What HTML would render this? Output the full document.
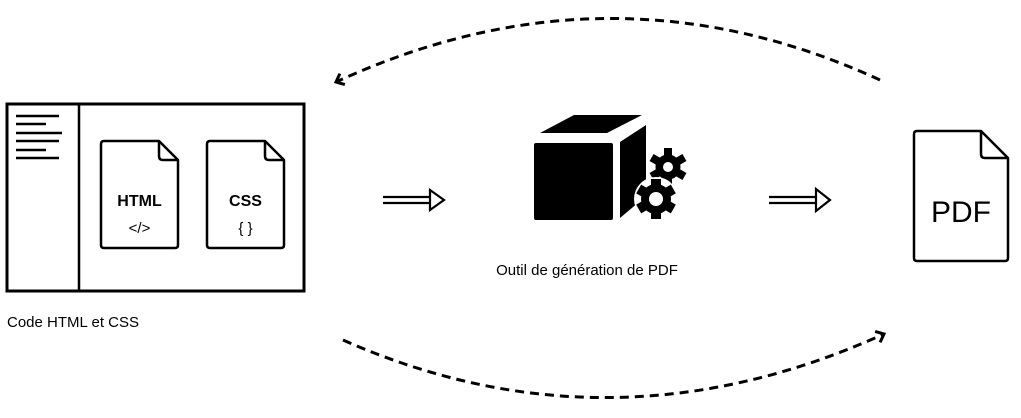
<!DOCTYPE html>
<html><head><meta charset="utf-8"><style>
html,body{margin:0;padding:0;background:#fff;width:1021px;height:418px;overflow:hidden}
svg text{font-family:"Liberation Sans",sans-serif;fill:#000}
</style></head><body>
<svg width="1021" height="418" viewBox="0 0 1021 418" xmlns="http://www.w3.org/2000/svg">
<defs>
<marker id="ah" markerWidth="14" markerHeight="14" refX="8" refY="7" orient="auto" markerUnits="userSpaceOnUse">
<path d="M1,1 L8,7 L1,13" fill="none" stroke="#000" stroke-width="3"/>
</marker>
</defs>
<!-- dashed arcs -->
<path d="M880,80 Q610,-44 336,82" fill="none" stroke="#000" stroke-width="3" stroke-dasharray="9,6" marker-end="url(#ah)"/>
<path d="M343,340 Q610,458 884,334" fill="none" stroke="#000" stroke-width="3" stroke-dasharray="9,6" marker-end="url(#ah)"/>

<!-- left window -->
<rect x="7" y="104" width="297" height="187" fill="none" stroke="#000" stroke-width="3"/>
<line x1="79" y1="104" x2="79" y2="291" stroke="#000" stroke-width="2.5"/>
<g stroke="#000" stroke-width="2.5">
<line x1="16" y1="116" x2="59" y2="116"/>
<line x1="16" y1="124" x2="46" y2="124"/>
<line x1="16" y1="133" x2="62" y2="133"/>
<line x1="16" y1="141" x2="59" y2="141"/>
<line x1="16" y1="150" x2="46" y2="150"/>
<line x1="16" y1="158" x2="59" y2="158"/>
</g>
<g fill="none" stroke="#000" stroke-width="2.5" stroke-linejoin="round">
<path d="M104,141 H159 L178,160 V245 Q178,248 175,248 H104 Q101,248 101,245 V144 Q101,141 104,141 Z"/>
<path d="M159,141 V156 Q159,160 163,160 H178"/>
<path d="M210,141 H265 L284,160 V245 Q284,248 281,248 H210 Q207,248 207,245 V144 Q207,141 210,141 Z"/>
<path d="M265,141 V156 Q265,160 269,160 H284"/>
<path d="M917,131 H981 L1008,158 V258 Q1008,261 1005,261 H917 Q914,261 914,258 V134 Q914,131 917,131 Z"/>
<path d="M981,131 V154 Q981,158 985,158 H1008"/>
</g>
<text x="139.5" y="206" font-size="16" font-weight="bold" text-anchor="middle">HTML</text>
<text x="139.5" y="233" font-size="15" text-anchor="middle">&lt;/&gt;</text>
<text x="245.5" y="206" font-size="16" font-weight="bold" text-anchor="middle">CSS</text>
<text x="245.5" y="233" font-size="15" text-anchor="middle">{ }</text>
<text x="961" y="222" font-size="30" text-anchor="middle">PDF</text>
<text x="7" y="327" font-size="15">Code HTML et CSS</text>
<text x="587" y="275" font-size="15" text-anchor="middle">Outil de génération de PDF</text>

<!-- double arrows -->
<g fill="none" stroke="#000" stroke-width="2.2">
<line x1="383" y1="197" x2="430" y2="197"/><line x1="383" y1="203" x2="430" y2="203"/>
<path d="M430,190 L444,200 L430,210 Z" fill="#fff"/>
<line x1="769" y1="197" x2="816" y2="197"/><line x1="769" y1="203" x2="816" y2="203"/>
<path d="M816,189 L830,200 L816,211 Z" fill="#fff"/>
</g>

<!-- cube -->
<path d="M540,133 L574,115 L642,115 L607,133 Z" fill="#000"/>
<rect x="534" y="143" width="79" height="77" rx="2" fill="#000"/>
<path d="M620,142 L646,125 V196 L620,218 Z" fill="#000"/>
<!-- gears -->
<g transform="translate(668,167)">
<circle r="14" fill="#000" stroke="#fff" stroke-width="3"/>
<g fill="#000"><rect x="-4" y="-19" width="8" height="38"/><rect x="-4" y="-19" width="8" height="38" transform="rotate(60)"/><rect x="-4" y="-19" width="8" height="38" transform="rotate(120)"/></g>
<circle r="11" fill="#000"/><circle r="5" fill="#fff"/>
</g>
<g transform="translate(656,199)">
<circle r="22" fill="#fff"/>
<g fill="#000"><rect x="-5" y="-20" width="10" height="40"/><rect x="-5" y="-20" width="10" height="40" transform="rotate(60)"/><rect x="-5" y="-20" width="10" height="40" transform="rotate(120)"/></g>
<circle r="15" fill="#000"/><circle r="7" fill="#fff"/>
</g>
</svg>
</body></html>
